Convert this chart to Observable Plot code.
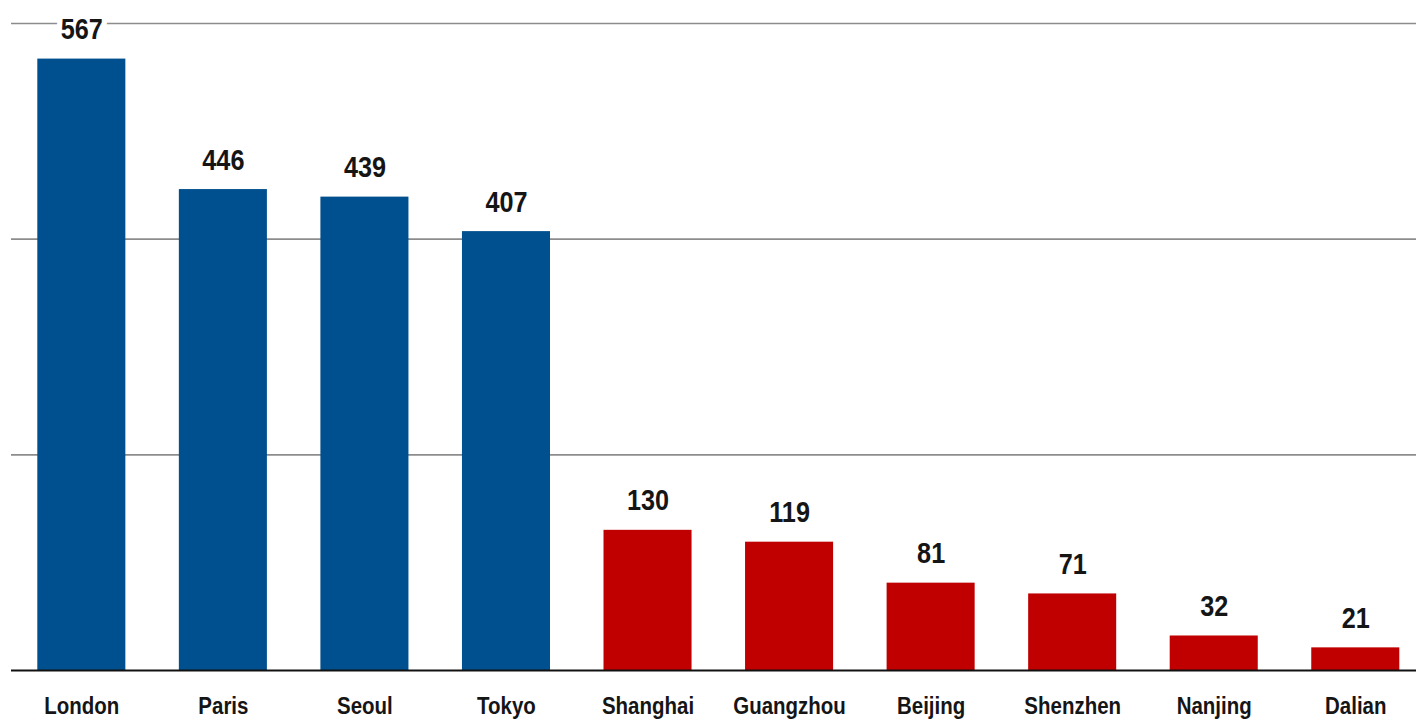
<!DOCTYPE html>
<html>
<head>
<meta charset="utf-8">
<script src="https://cdn.jsdelivr.net/npm/d3@7"></script>
<script src="https://cdn.jsdelivr.net/npm/@observablehq/plot@0.6"></script>
<style>
  html, body { margin: 0; padding: 0; background: #fff; }
  #chart { width: 1416px; height: 720px; }
</style>
</head>
<body>
<div id="chart"></div>
<script>
const cities = ["London", "Paris", "Seoul", "Tokyo", "Shanghai", "Guangzhou", "Beijing", "Shenzhen", "Nanjing", "Dalian"];
const values = [567, 446, 439, 407, 130, 119, 81, 71, 32, 21];
const groups = ["foreign", "foreign", "foreign", "foreign", "china", "china", "china", "china", "china", "china"];
const gridTicks = [200, 400, 600];

const data = cities.map((c, i) => ({city: c, value: values[i], group: groups[i]}));
const font = "'Liberation Sans', Arial, sans-serif";

const chart = Plot.plot({
  width: 1416,
  height: 720,
  marginTop: 23,
  marginBottom: 50,
  marginLeft: 11,
  marginRight: 0,
  style: {background: "#fff", fontFamily: font},
  x: {domain: cities, range: [37.3, 1399.3], paddingInner: 0.378, paddingOuter: 0, round: false, label: null},
  y: {domain: [0, 600], axis: null},
  color: {domain: ["foreign", "china"], range: ["#00508F", "#C00000"]},
  marks: [
    Plot.ruleY(gridTicks, {stroke: "#8c8c8c", strokeWidth: 1.6}),
    Plot.barY(data, {x: "city", y: "value", fill: "group"}),
    Plot.ruleY([0], {stroke: "#111", strokeWidth: 2}),
    Plot.text(data, {
      x: "city", y: "value", text: d => String(d.value),
      dy: -20, lineAnchor: "bottom",
      fontSize: 29, fontWeight: "bold", fontFamily: font,
      fill: "#151515", stroke: "#fff", strokeWidth: 12, strokeLinejoin: "round"
    }),
    Plot.axisX({
      tickSize: 0, tickPadding: 27, fontSize: 23, fontWeight: "bold",
      fontFamily: font, color: "#151515", label: null
    })
  ]
});
document.getElementById("chart").appendChild(chart);

// Condense glyphs horizontally to mimic the narrow bold face of the original
function squeeze(selector, ratio) {
  chart.querySelectorAll(selector).forEach(t => {
    const len = t.getComputedTextLength();
    if (len > 0) {
      t.setAttribute("textLength", (len * ratio).toFixed(2));
      t.setAttribute("lengthAdjust", "spacingAndGlyphs");
    }
  });
}
squeeze('g[aria-label="text"] text', 0.87);
squeeze('g[aria-label="x-axis tick label"] text', 0.89);
</script>
</body>
</html>
